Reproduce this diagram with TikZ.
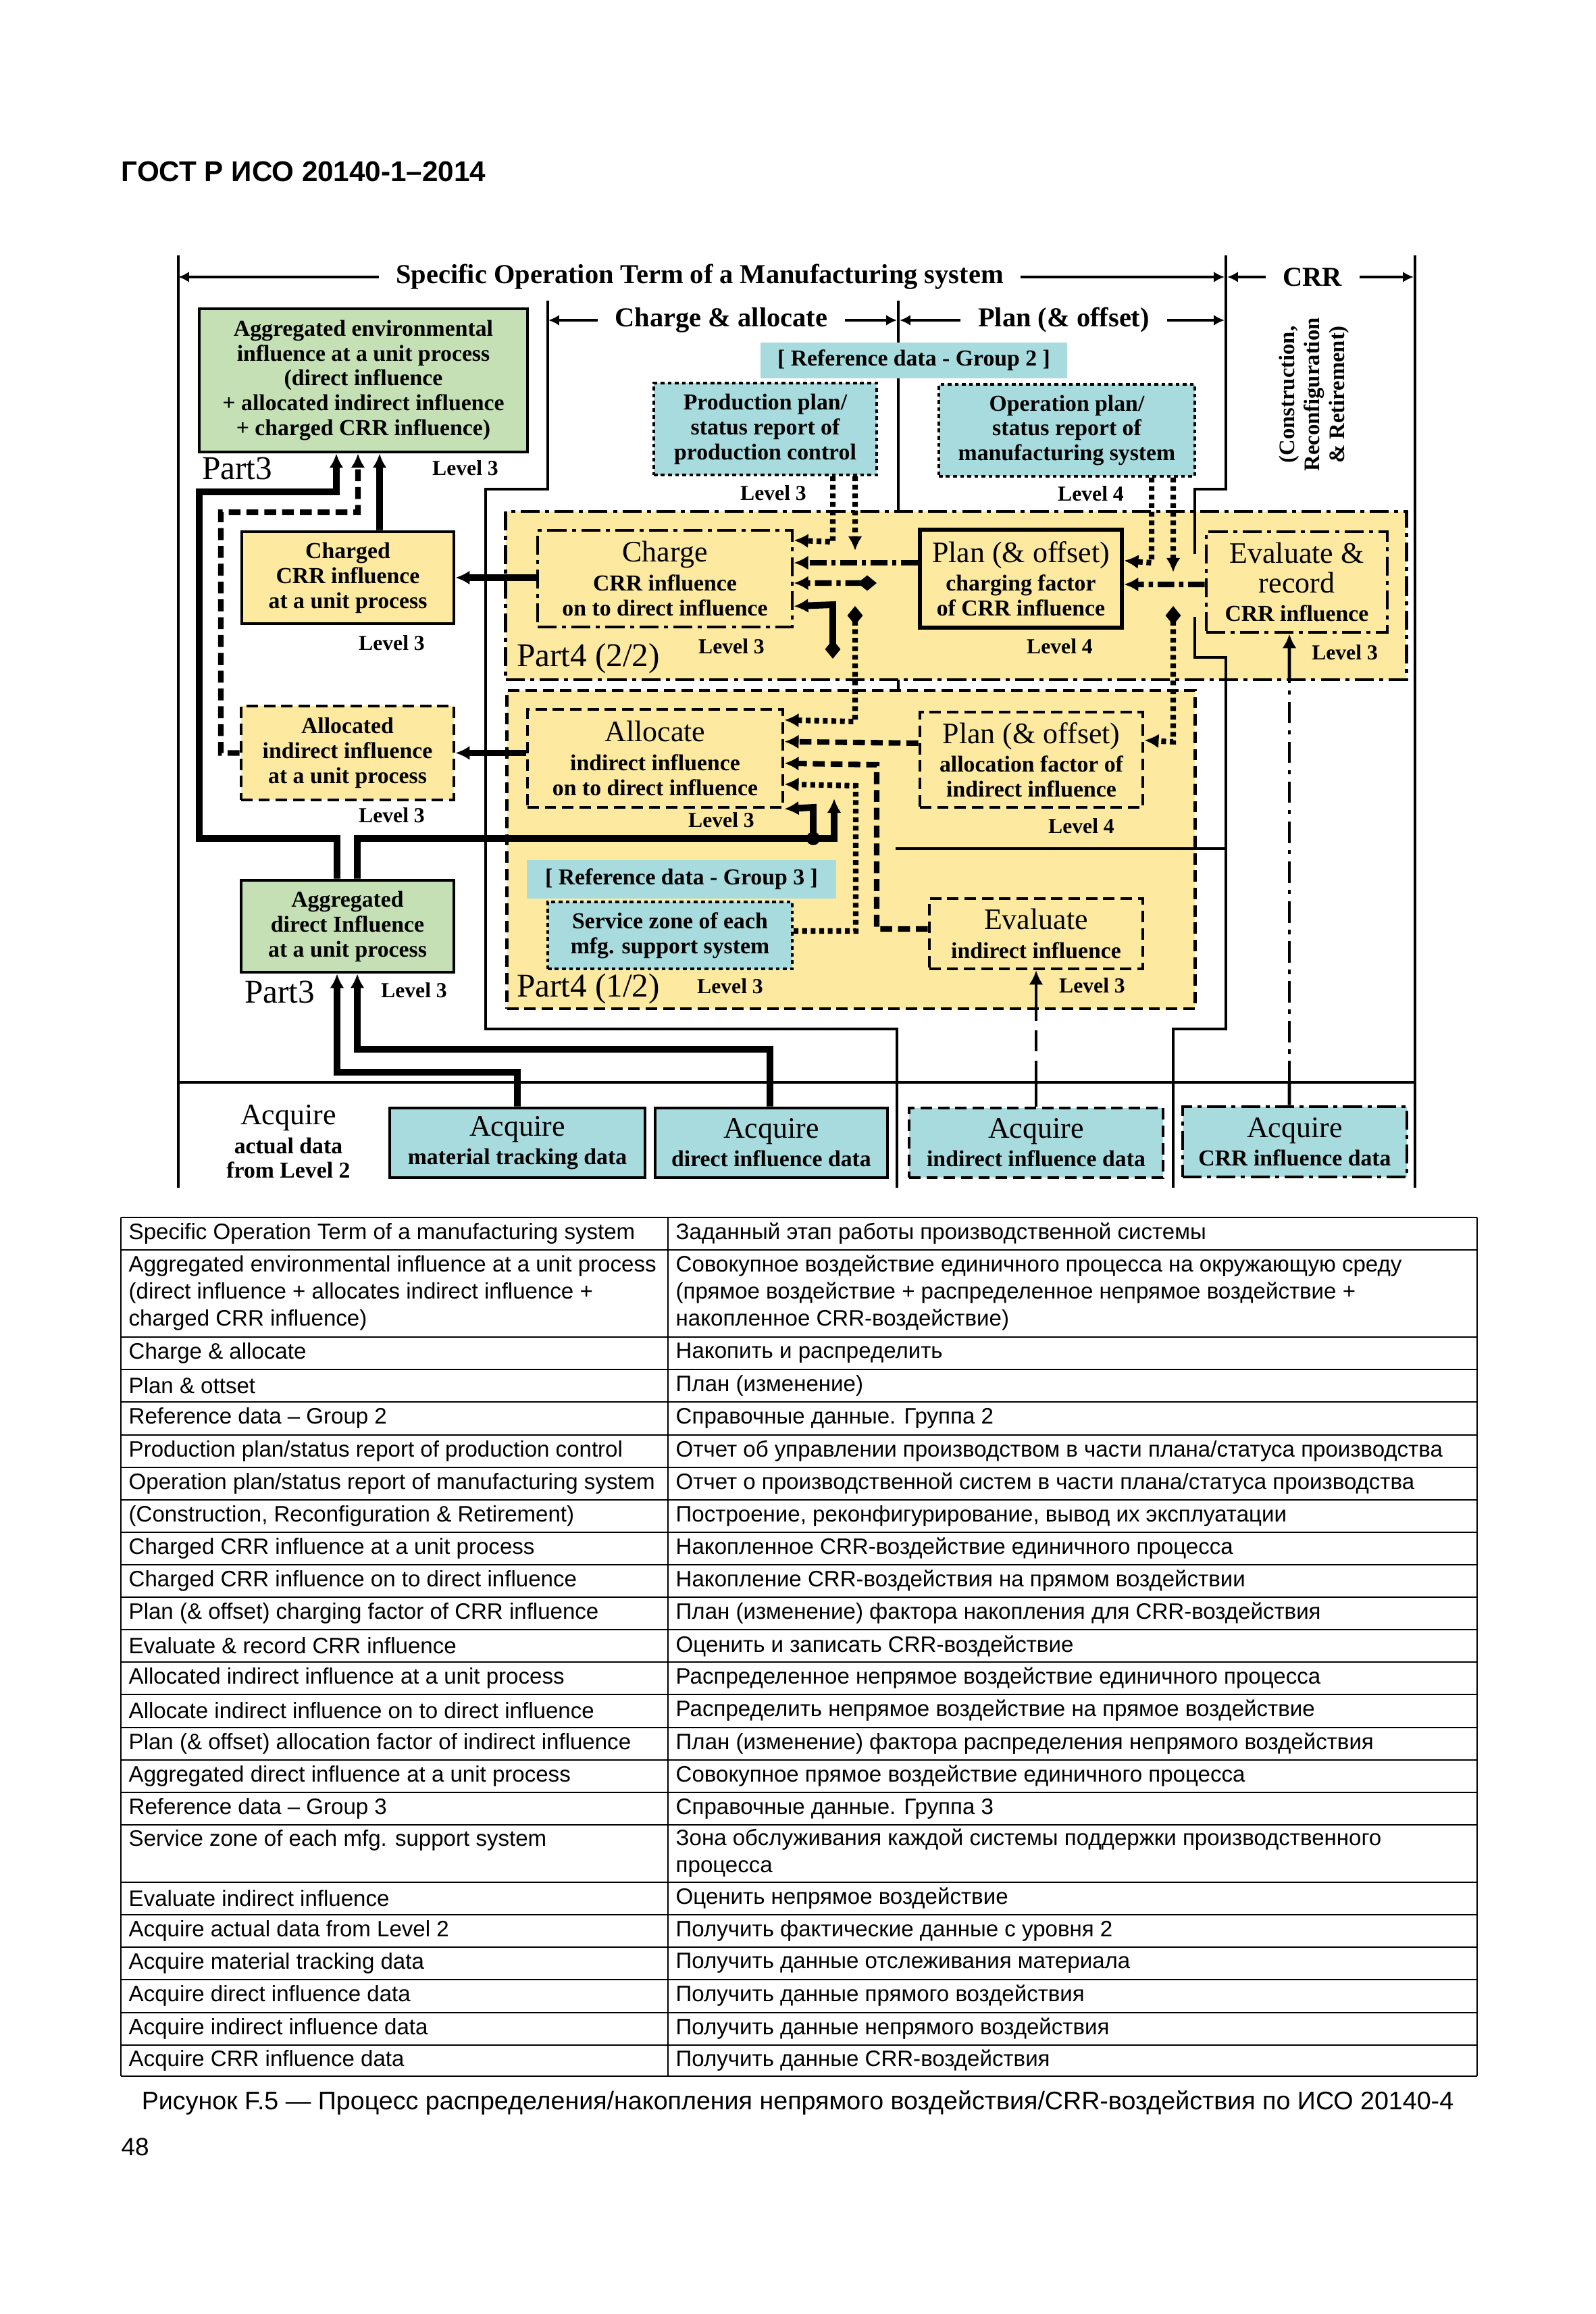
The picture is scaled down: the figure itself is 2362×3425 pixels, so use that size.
\documentclass[tikz,border=0pt]{standalone}
\usepackage{fontspec}
\setmainfont{Liberation Serif}
\newfontfamily\tabf{Liberation Sans}
\usetikzlibrary{arrows.meta}

\definecolor{grn}{RGB}{197,224,180}
\definecolor{ylw}{RGB}{253,234,160}
\definecolor{blu}{RGB}{168,219,222}

\newcommand{\bodyf}{\fontsize{9.6}{10.5}\selectfont\bfseries}
\newcommand{\bigf}{\fontsize{12.5}{13}\selectfont\mdseries}
\newcommand{\lvlf}{\fontsize{9}{10}\selectfont\bfseries}
\newcommand{\headf}{\fontsize{11.5}{12}\selectfont\bfseries}
\newcommand{\partf}{\fontsize{14}{15}\selectfont\mdseries}
\newcommand{\cellf}{\tabf\fontsize{9.4}{11.4}\selectfont}

\begin{document}
\begin{tikzpicture}[x=0.01cm, y=-0.01cm]
	\tikzstyle{box}=[draw, line width=1.3pt, inner sep=0pt, align=center, font=\bodyf]
	\tikzstyle{dashbox}=[box, dash pattern=on 4.8pt off 2.5pt]
	\tikzstyle{dotbox}=[box, line width=1.1pt, dash pattern=on 1.6pt off 1.4pt]
	\tikzstyle{ddbox}=[box, dash pattern=on 8pt off 2.3pt on 1.7pt off 2.3pt]
	\tikzstyle{lvl}=[font=\lvlf, inner sep=0pt]
	\tikzstyle{partlbl}=[font=\partf, inner sep=0pt]
	\tikzstyle{ttl}=[font=\headf, inner xsep=0.25cm, inner ysep=0pt]
	\tikzstyle{sln}=[line width=1.4pt]
	\tikzstyle{thk}=[line width=2.8pt]
	\tikzstyle{dtc}=[line width=2.3pt, dash pattern=on 2pt off 1.6pt]
	\tikzstyle{dsc}=[line width=2.3pt, dash pattern=on 5pt off 2.5pt]
	\tikzstyle{ddc}=[line width=2.3pt, dash pattern=on 7pt off 2pt on 1.8pt off 2pt]
	\tikzstyle{arr}=[-{Latex[length=6pt,width=6pt]}]
	\tikzstyle{darr}=[{Diamond[length=8pt,width=6.5pt]}-{Latex[length=6pt,width=6pt]}]
	\tikzstyle{tarr}=[-{Latex[length=4.5pt,width=4.5pt]}]
	\tikzstyle{tcell}=[font=\cellf, inner sep=0pt, anchor=west, align=left]

	\useasboundingbox (0,0) rectangle (2362,3425);
	\fill[white] (0,0) rectangle (2362,3425);

	\node[font=\tabf\bfseries\fontsize{12}{14}\selectfont, anchor=west, inner sep=0pt] (gost) at (179,254) {ГОСТ Р ИСО 20140-1–2014};

	% Part 4 areas
	\node[ddbox, fill=ylw, minimum width=13.33cm, minimum height=2.49cm] (pfour2) at (1415.5,881.5) {};
	\node[dashbox, fill=ylw, minimum width=10.18cm, minimum height=4.71cm] (pfour1) at (1260,1257.5) {};

	% frame lines
	\draw[sln] (264,378) -- (264,1758);
	\draw[sln] (2095,378) -- (2095,1758);
	\draw[sln] (1815,378) -- (1815,724) -- (1769,724) -- (1769,820);
	\draw[sln] (1769,913) -- (1769,973) -- (1815,973) -- (1815,1523) -- (1737,1523) -- (1737,1758);
	\draw[sln] (811,445) -- (811,724) -- (719,724) -- (719,1523) -- (1328,1523) -- (1328,1758);
	\draw[sln] (1330,445) -- (1330,757);
	\draw[sln] (1330,1006) -- (1330,1022);
	\draw[sln] (1326,1256) -- (1815,1256);
	\draw[sln] (264,1602) -- (2095,1602);

	% titles
	\node[ttl] (ttlspec) at (1036,410) {Specific Operation Term of a Manufacturing system};
	\node[ttl] (ttlcrr) at (1943,410) {CRR};
	\node[ttl] (ttlca) at (1068,474) {Charge \& allocate};
	\node[ttl] (ttlplan) at (1575,474) {Plan (\& offset)};
	\node[font=\bfseries\fontsize{9.3}{10.5}\selectfont, rotate=90, align=center, inner sep=0pt] (crrnote) at (1946,584) {(Construction,\\Reconfiguration\\\& Retirement)};
	\draw[sln, tarr] (ttlspec.west) -- (264,410);
	\draw[sln, tarr] (ttlspec.east) -- (1813,410);
	\draw[sln, tarr] (ttlcrr.west) -- (1817,410);
	\draw[sln, tarr] (ttlcrr.east) -- (2093,410);
	\draw[sln, tarr] (ttlca.west) -- (812,474);
	\draw[sln, tarr] (ttlca.east) -- (1328,474);
	\draw[sln, tarr] (ttlplan.west) -- (1332,474);
	\draw[sln, tarr] (ttlplan.east) -- (1813,474);

	% Part 3 boxes
	\node[box, fill=grn, minimum width=4.86cm, minimum height=2.12cm] (aggenv) at (538,563) {Aggregated environmental\\influence at a unit process\\(direct influence\\+ allocated indirect influence\\+ charged CRR influence)};
	\node[partlbl] (ptaggenv) at (351,693) {Part3};
	\node[lvl] (lvaggenv) at (689,693) {Level 3};
	\node[box, fill=ylw, minimum width=3.14cm, minimum height=1.36cm] (chgd) at (515,855) {Charged\\CRR influence\\at a unit process};
	\node[lvl] (lvchgd) at (580,952) {Level 3};
	\node[dashbox, fill=ylw, minimum width=3.15cm, minimum height=1.39cm] (alcd) at (514.5,1114.5) {Allocated\\indirect influence\\at a unit process};
	\node[lvl] (lvalcd) at (580,1207) {Level 3};
	\node[box, fill=grn, minimum width=3.15cm, minimum height=1.36cm] (aggdir) at (514.5,1371) {Aggregated\\direct Influence\\at a unit process};
	\node[partlbl] (ptaggdir) at (414,1468) {Part3};
	\node[lvl] (lvaggdir) at (613,1466) {Level 3};

	% reference data group 2
	\node[box, draw=none, fill=blu, minimum width=4.54cm, minimum height=0.53cm] (reftwo) at (1353,533.5) {[ Reference data - Group 2 ]};
	\node[dotbox, fill=blu, minimum width=3.30cm, minimum height=1.36cm] (prodplan) at (1133,635) {Production plan/\\status report of\\production control};
	\node[lvl] (lvprod) at (1145,730) {Level 3};
	\node[dotbox, fill=blu, minimum width=3.79cm, minimum height=1.36cm] (opplan) at (1579.5,637) {Operation plan/\\status report of\\manufacturing system};
	\node[lvl] (lvop) at (1615,731) {Level 4};

	% Part 4 (2/2)
	\node[ddbox, fill=ylw, minimum width=3.77cm, minimum height=1.43cm] (charge) at (984.5,856.5) {{\bigf Charge}\\[1.5pt]CRR influence\\on to direct influence};
	\node[lvl] (lvcharge) at (1083,957) {Level 3};
	\node[partlbl] (ptfour2) at (871,975) {Part4 (2/2)};
	\node[box, line width=1.8pt, fill=ylw, minimum width=2.99cm, minimum height=1.45cm] (planchg) at (1511.5,856.5) {{\bigf Plan (\& offset)}\\[1.5pt]charging factor\\of CRR influence};
	\node[lvl] (lvplanchg) at (1569,957) {Level 4};
	\node[ddbox, fill=ylw, minimum width=2.68cm, minimum height=1.49cm] (evrec) at (1920,861.5) {{\bigf Evaluate \&}\\[2pt]{\bigf record}\\[1.5pt]CRR influence};
	\node[lvl] (lvevrec) at (1991,966) {Level 3};

	% Part 4 (1/2)
	\node[dashbox, fill=ylw, minimum width=3.78cm, minimum height=1.45cm] (allocate) at (970,1122.5) {{\bigf Allocate}\\[1.5pt]indirect influence\\on to direct influence};
	\node[lvl] (lvallocate) at (1068,1214) {Level 3};
	\node[dashbox, fill=ylw, minimum width=3.30cm, minimum height=1.41cm] (planalc) at (1527,1124.5) {{\bigf Plan (\& offset)}\\[1.5pt]allocation factor of\\indirect influence};
	\node[lvl] (lvplanalc) at (1601,1223) {Level 4};
	\node[box, draw=none, fill=blu, minimum width=4.58cm, minimum height=0.57cm] (refthree) at (1009,1301.5) {[ Reference data - Group 3 ]};
	\node[dotbox, fill=blu, minimum width=3.62cm, minimum height=0.99cm] (service) at (992,1384.5) {Service zone of each\\mfg. support system};
	\node[dashbox, fill=ylw, minimum width=3.16cm, minimum height=1.04cm] (evind) at (1534,1382) {{\bigf Evaluate}\\[1.5pt]indirect influence};
	\node[lvl] (lvevind) at (1617,1459) {Level 3};
	\node[partlbl] (ptfour1) at (871,1464) {Part4 (1/2)};
	\node[lvl] (lvfour1) at (1081,1460) {Level 3};

	% acquire row
	\node[box, draw=none] (acqact) at (427,1690) {{\bigf Acquire}\\[1.5pt]actual data\\from Level 2};
	\node[box, fill=blu, minimum width=3.78cm, minimum height=1.03cm] (acqmat) at (766,1691.5) {{\bigf Acquire}\\[1.5pt]material tracking data};
	\node[box, fill=blu, minimum width=3.44cm, minimum height=1.03cm] (acqdir) at (1142,1691.5) {{\bigf Acquire}\\[1.5pt]direct influence data};
	\node[dashbox, fill=blu, minimum width=3.76cm, minimum height=1.03cm] (acqind) at (1534,1691.5) {{\bigf Acquire}\\[1.5pt]indirect influence data};
	\node[ddbox, fill=blu, minimum width=3.32cm, minimum height=1.04cm] (acqcrr) at (1917,1690) {{\bigf Acquire}\\[1.5pt]CRR influence data};

	\coordinate (jdot) at (1204,1241);
	\coordinate (upend) at (1235,1182);
	\coordinate (dmdc) at (1233,975);
	\coordinate (dmdp) at (1266,897);
	\coordinate (dmdo) at (1737,897);
	\coordinate (dmdf) at (1298,863);
	\coordinate (dnp) at (1266,815);
	\coordinate (dno) at (1737,847);

	% thick lines
	\draw[thk, arr] ([xshift=-0.155cm]aggdir.north) -- (499,1241) -- (295,1241) -- (295,728) -- (498,728) -- ([xshift=-0.4cm]aggenv.south);
	\draw[thk, arr] ([xshift=0.47cm]chgd.north) -- ([xshift=0.24cm]aggenv.south);
	\draw[dsc, arr] (alcd.west) -- (327,1114.5) -- (327,758) -- (530,758) -- ([xshift=-0.08cm]aggenv.south);
	\draw[thk, arr] (charge.west |- chgd.east) -- (chgd.east);
	\draw[thk, arr] (allocate.west |- alcd.east) -- (alcd.east);
	\draw[thk, arr] ([xshift=0.145cm]aggdir.north) -- (529,1241) -- (1235,1241) -- (upend);
	\fill (jdot) circle (0.1cm);
	\draw[thk, arr] (jdot) -- (1204,1195) -- (allocate.south east);
	\draw[thk, darr] (dmdc) -- (1233,895) -- ([yshift=0.33cm]charge.south east);
	\draw[thk, arr] (acqmat.north) -- (766,1587) -- (499,1587) -- ([xshift=-0.155cm]aggdir.south);
	\draw[thk, arr] ([xshift=-0.02cm]acqdir.north) -- (1140,1553) -- (529,1553) -- ([xshift=0.145cm]aggdir.south);
	\draw[sln] (acqind.north) -- (1534,1602);
	\draw[sln, dash pattern=on 9pt off 4pt] (1534,1602) -- (1534,1493);
	\draw[sln, arr] (1534,1493) -- (evind.south);
	\draw[sln] ([xshift=-0.08cm]acqcrr.north) -- (1909,1602);
	\draw[sln, dash pattern=on 9pt off 3pt on 1.8pt off 3pt] (1909,1602) -- (1909,1006);
	\draw[sln, arr] (1909,1006) -- ([xshift=-0.11cm]evrec.south);

	% dotted lines from reference data
	\draw[dtc, arr] ([xshift=1cm]prodplan.south) -- (1233,802) -- ([yshift=-0.17cm]charge.north east);
	\draw[dtc, arr] ([xshift=1.33cm]prodplan.south) -- (dnp);
	\draw[dtc, darr] (dmdp) -- (1266,1068) -- ([yshift=-0.18cm]allocate.north east);
	\draw[dtc, arr] ([xshift=1.255cm]opplan.south) -- (1705,833) -- ([yshift=-0.49cm]planchg.north east);
	\draw[dtc, arr] ([xshift=1.575cm]opplan.south) -- (dno);
	\draw[dtc, darr] (dmdo) -- (1737,1098) -- ([yshift=-0.44cm]planalc.north east);
	\draw[dtc, arr] ([yshift=0.065cm]service.east) -- (1267,1378) -- (1267,1163) -- ([yshift=-1.13cm]allocate.north east);

	% dash-dot lines
	\draw[ddc, arr] ([yshift=0.235cm]planchg.west) -- ([yshift=0.235cm]charge.east);
	\draw[ddc, darr] (dmdf) -- ([yshift=-0.065cm]charge.east);
	\draw[ddc, arr] ([yshift=-0.035cm]evrec.west) -- ([yshift=-0.085cm]planchg.east);

	% dashed lines
	\draw[dsc, arr] ([yshift=0.245cm]planalc.west) -- ([yshift=-0.5cm]allocate.north east);
	\draw[dsc, arr] ([yshift=0.07cm]evind.west) -- (1298,1375) -- (1298,1132) -- ([yshift=-0.82cm]allocate.north east);

	% table
	\foreach \ry in {1802,1850,1979,2027,2075,2124,2172,2220,2268,2316,2364,2412,2460,2508,2557,2605,2653,2701,2786,2834,2882,2930,2979,3027,3073}
		\draw[line width=0.7pt] (179,\ry) -- (2187,\ry);
	\draw[line width=0.7pt] (179,1802) -- (179,3073) (989,1802) -- (989,3073) (2187,1802) -- (2187,3073);

	\node[tcell] (en1) at (190,1826) {Specific Operation Term of a manufacturing system};
	\node[tcell] (ru1) at (1000,1826) {Заданный этап работы производственной системы};
	\node[tcell] (en2) at (190,1914) {Aggregated environmental influence at a unit process\\(direct influence + allocates indirect influence +\\charged CRR influence)};
	\node[tcell] (ru2) at (1000,1914) {Совокупное воздействие единичного процесса на окружающую среду\\(прямое воздействие + распределенное непрямое воздействие +\\накопленное CRR-воздействие)};
	\node[tcell] (en3) at (190,2003) {Charge \& allocate};
	\node[tcell] (ru3) at (1000,2003) {Накопить и распределить};
	\node[tcell] (en4) at (190,2051) {Plan \& ottset};
	\node[tcell] (ru4) at (1000,2051) {План (изменение)};
	\node[tcell] (en5) at (190,2099) {Reference data – Group 2};
	\node[tcell] (ru5) at (1000,2099) {Справочные данные. Группа 2};
	\node[tcell] (en6) at (190,2148) {Production plan/status report of production control};
	\node[tcell] (ru6) at (1000,2148) {Отчет об управлении производством в части плана/статуса производства};
	\node[tcell] (en7) at (190,2196) {Operation plan/status report of manufacturing system};
	\node[tcell] (ru7) at (1000,2196) {Отчет о производственной систем в части плана/статуса производства};
	\node[tcell] (en8) at (190,2244) {(Construction, Reconfiguration \& Retirement)};
	\node[tcell] (ru8) at (1000,2244) {Построение, реконфигурирование, вывод их эксплуатации};
	\node[tcell] (en9) at (190,2292) {Charged CRR influence at a unit process};
	\node[tcell] (ru9) at (1000,2292) {Накопленное CRR-воздействие единичного процесса};
	\node[tcell] (en10) at (190,2340) {Charged CRR influence on to direct influence};
	\node[tcell] (ru10) at (1000,2340) {Накопление CRR-воздействия на прямом воздействии};
	\node[tcell] (en11) at (190,2388) {Plan (\& offset) charging factor of CRR influence};
	\node[tcell] (ru11) at (1000,2388) {План (изменение) фактора накопления для CRR-воздействия};
	\node[tcell] (en12) at (190,2436) {Evaluate \& record CRR influence};
	\node[tcell] (ru12) at (1000,2436) {Оценить и записать CRR-воздействие};
	\node[tcell] (en13) at (190,2484) {Allocated indirect influence at a unit process};
	\node[tcell] (ru13) at (1000,2484) {Распределенное непрямое воздействие единичного процесса};
	\node[tcell] (en14) at (190,2532) {Allocate indirect influence on to direct influence};
	\node[tcell] (ru14) at (1000,2532) {Распределить непрямое воздействие на прямое воздействие};
	\node[tcell] (en15) at (190,2581) {Plan (\& offset) allocation factor of indirect influence};
	\node[tcell] (ru15) at (1000,2581) {План (изменение) фактора распределения непрямого воздействия};
	\node[tcell] (en16) at (190,2629) {Aggregated direct influence at a unit process};
	\node[tcell] (ru16) at (1000,2629) {Совокупное прямое воздействие единичного процесса};
	\node[tcell] (en17) at (190,2677) {Reference data – Group 3};
	\node[tcell] (ru17) at (1000,2677) {Справочные данные. Группа 3};
	\node[tcell] (en18) at (190,2724) {Service zone of each mfg. support system};
	\node[tcell] (ru18) at (1000,2743) {Зона обслуживания каждой системы поддержки производственного\\процесса};
	\node[tcell] (en19) at (190,2810) {Evaluate indirect influence};
	\node[tcell] (ru19) at (1000,2810) {Оценить непрямое воздействие};
	\node[tcell] (en20) at (190,2858) {Acquire actual data from Level 2};
	\node[tcell] (ru20) at (1000,2858) {Получить фактические данные с уровня 2};
	\node[tcell] (en21) at (190,2906) {Acquire material tracking data};
	\node[tcell] (ru21) at (1000,2906) {Получить данные отслеживания материала};
	\node[tcell] (en22) at (190,2954) {Acquire direct influence data};
	\node[tcell] (ru22) at (1000,2954) {Получить данные прямого воздействия};
	\node[tcell] (en23) at (190,3003) {Acquire indirect influence data};
	\node[tcell] (ru23) at (1000,3003) {Получить данные непрямого воздействия};
	\node[tcell] (en24) at (190,3050) {Acquire CRR influence data};
	\node[tcell] (ru24) at (1000,3050) {Получить данные CRR-воздействия};

	\node[font=\tabf\fontsize{10.7}{12}\selectfont, inner sep=0pt] (caption) at (1181,3112) {Рисунок F.5 — Процесс распределения/накопления непрямого воздействия/CRR-воздействия по ИСО 20140-4};
	\node[font=\tabf\fontsize{10.5}{12}\selectfont, anchor=west, inner sep=0pt] (pagenum) at (179,3178) {48};
\end{tikzpicture}
\end{document}
